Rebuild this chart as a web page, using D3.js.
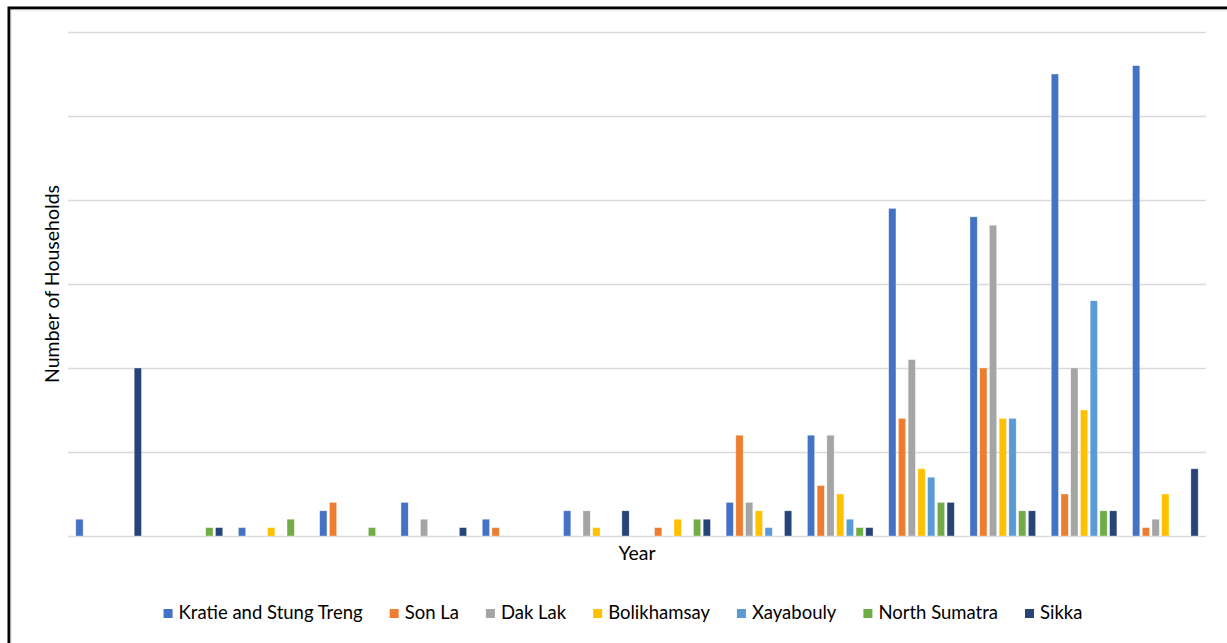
<!DOCTYPE html>
<html>
<head>
<meta charset="utf-8">
<script src="https://cdn.jsdelivr.net/npm/d3@7"></script>
<style>
  html, body { margin: 0; padding: 0; background: #fff; }
  svg { display: block; }
  text { font-family: Lato, "Open Sans", sans-serif; fill: #000; }
</style>
</head>
<body>
<svg id="chart" width="1227" height="643"></svg>
<script>
// Households per region, one group per survey year (14 years)
const groups = ["1", "2", "3", "4", "5", "6", "7", "8", "9", "10", "11", "12", "13", "14"];
const seriesNames = ["Kratie and Stung Treng", "Son La", "Dak Lak", "Bolikhamsay", "Xayabouly", "North Sumatra", "Sikka"];
const kratie      = [2, 0, 1, 3, 4, 2, 3, 0, 4, 12, 39, 38, 55, 56];
const sonLa       = [0, 0, 0, 4, 0, 1, 0, 1, 12, 6, 14, 20, 5, 1];
const dakLak      = [0, 0, 0, 0, 2, 0, 3, 0, 4, 12, 21, 37, 20, 2];
const bolikhamsay = [0, 0, 1, 0, 0, 0, 1, 2, 3, 5, 8, 14, 15, 5];
const xayabouly   = [0, 0, 0, 0, 0, 0, 0, 0, 1, 2, 7, 14, 28, 0];
const northSumatra= [0, 1, 2, 1, 0, 0, 0, 2, 0, 1, 4, 3, 3, 0];
const sikka       = [20, 1, 0, 0, 1, 0, 3, 2, 3, 1, 4, 3, 3, 8];
const yTicks = [0, 10, 20, 30, 40, 50, 60];

const seriesValues = [kratie, sonLa, dakLak, bolikhamsay, xayabouly, northSumatra, sikka];
const colors = ["#4472C4", "#ED7D31", "#A5A5A5", "#FFC000", "#5B9BD5", "#70AD47", "#264478"];

const svg = d3.select("#chart");

// outer frame
svg.append("rect").attr("x", 9).attr("y", 8).attr("width", 1240).attr("height", 660)
  .attr("fill", "none").attr("stroke", "#000").attr("stroke-width", 3);
svg.append("rect").attr("x", 11).attr("y", 10).attr("width", 1240).attr("height", 660)
  .attr("fill", "none").attr("stroke", "#d9d9d9").attr("stroke-width", 1);

const plot = { left: 68, right: 1206, top: 32, bottom: 536 };

const x0 = d3.scaleBand().domain(groups).range([plot.left, plot.right]).paddingInner(0).paddingOuter(0);
const x1 = d3.scaleBand().domain(seriesNames)
  .range([6.6, x0.bandwidth() - 6.6]).paddingInner(0.25).paddingOuter(0.125);
const y = d3.scaleLinear().domain([0, 60]).range([plot.bottom, plot.top]);

// gridlines
svg.append("g")
  .selectAll("line").data(yTicks).join("line")
  .attr("x1", plot.left).attr("x2", plot.right)
  .attr("y1", d => Math.round(y(d)) + 0.5).attr("y2", d => Math.round(y(d)) + 0.5)
  .attr("stroke", "#d9d9d9").attr("stroke-width", 1.5);

// bars
const g = svg.append("g");
groups.forEach((grp, gi) => {
  const gg = g.append("g").attr("transform", `translate(${x0(grp)},0)`);
  seriesNames.forEach((s, si) => {
    const v = seriesValues[si][gi];
    if (!v) return;
    gg.append("rect")
      .attr("x", x1(s))
      .attr("y", y(v))
      .attr("width", x1.bandwidth())
      .attr("height", y(0) - y(v))
      .attr("fill", colors[si])
      .attr("stroke", "#fff").attr("stroke-opacity", 0.6).attr("stroke-width", 0.6);
  });
});

// axis titles
svg.append("text")
  .attr("transform", `translate(59,${(plot.top + plot.bottom) / 2}) rotate(-90)`)
  .attr("text-anchor", "middle")
  .style("font-size", "19.5px")
  .text("Number of Households");

svg.append("text")
  .attr("x", 637).attr("y", 560)
  .attr("text-anchor", "middle")
  .style("font-size", "19.5px")
  .text("Year");

// legend
const legend = svg.append("g");
const items = legend.selectAll("g").data(seriesNames).join("g");
items.append("rect").attr("width", 9).attr("height", 9).attr("y", -10)
  .attr("fill", (d, i) => colors[i]);
items.append("text").attr("x", 15).attr("y", 0)
  .style("font-size", "18.5px").text(d => d);
let cx = 0;
const widths = [];
items.each(function () {
  const w = d3.select(this).select("text").node().getComputedTextLength();
  widths.push(15 + w);
});
const gap = 27;
const total = d3.sum(widths) + gap * (widths.length - 1);
const startX = 623 - total / 2;
items.attr("transform", (d, i) => {
  const t = `translate(${startX + cx},619)`;
  cx += widths[i] + gap;
  return t;
});
</script>
</body>
</html>
